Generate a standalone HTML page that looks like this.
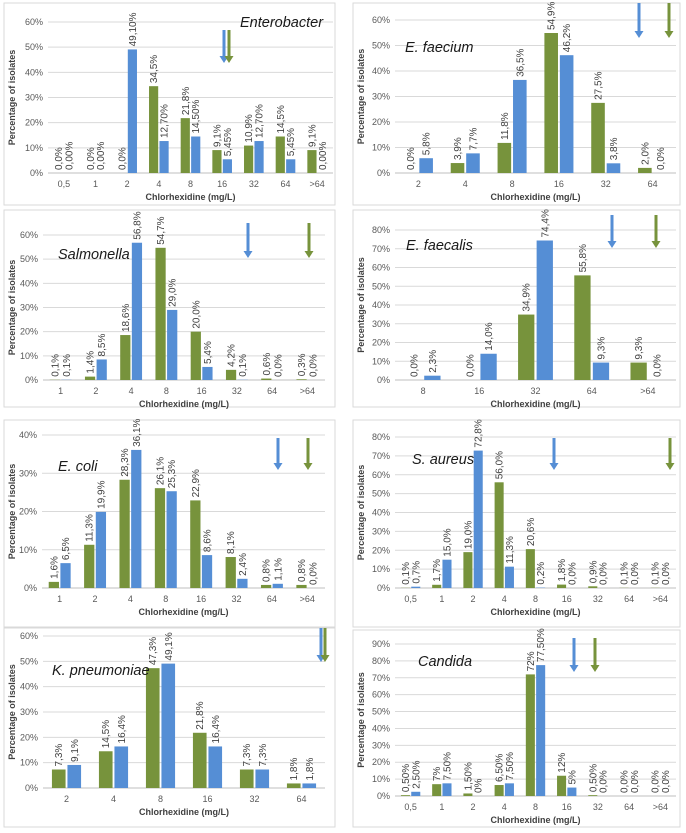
<!DOCTYPE html>
<html><head><meta charset="utf-8"><style>
html,body{margin:0;padding:0;background:#fff;}
svg{display:block;font-family:"Liberation Sans",sans-serif;}
</style></head><body>
<svg id="fig" width="686" height="833" viewBox="0 0 686 833" xmlns="http://www.w3.org/2000/svg"></svg>
<script>
// ---- data ----
const entCats = ["0,5","1","2","4","8","16","32","64",">64"];
const entGreen = [0,0,0,34.5,21.8,9.1,10.9,14.5,9.1];
const entBlue = [0,0,49.1,12.7,14.5,5.45,12.7,5.45,0];
const fmCats = ["2","4","8","16","32","64"];
const fmGreen = [0,3.9,11.8,54.9,27.5,2.0];
const fmBlue = [5.8,7.7,36.5,46.2,3.8,0];
const salCats = ["1","2","4","8","16","32","64",">64"];
const salGreen = [0.1,1.4,18.6,54.7,20.0,4.2,0.6,0.3];
const salBlue = [0.1,8.5,56.8,29.0,5.4,0.1,0,0];
const fsCats = ["8","16","32","64",">64"];
const fsGreen = [0,0,34.9,55.8,9.3];
const fsBlue = [2.3,14.0,74.4,9.3,0];
const ecCats = ["1","2","4","8","16","32","64",">64"];
const ecGreen = [1.6,11.3,28.3,26.1,22.9,8.1,0.8,0.8];
const ecBlue = [6.5,19.9,36.1,25.3,8.6,2.4,1.1,0];
const saCats = ["0,5","1","2","4","8","16","32","64",">64"];
const saGreen = [0.1,1.7,19.0,56.0,20.6,1.8,0.9,0.1,0.1];
const saBlue = [0.7,15.0,72.8,11.3,0.2,0,0,0,0];
const kpCats = ["2","4","8","16","32","64"];
const kpGreen = [7.3,14.5,47.3,21.8,7.3,1.8];
const kpBlue = [9.1,16.4,49.1,16.4,7.3,1.8];
const caCats = ["0,5","1","2","4","8","16","32","64",">64"];
const caGreen = [0.5,7,1.5,6.5,72,12,0.5,0,0];
const caBlue = [2.5,7.5,0,7.5,77.5,5,0,0,0];
const caGreenLabels = ["0,50%","7%","1,50%","6,50%","72%","12%","0,50%","0,0%","0,0%"];
const caBlueLabels = ["2,50%","7,50%","0%","7,50%","77,50%","5%","0,0%","0,0%","0,0%"];

const NS="http://www.w3.org/2000/svg";
const svg=document.getElementById('fig');
const GREEN="#77933C", BLUE="#558ED5";
function mk(tag,attrs,parent){const e=document.createElementNS(NS,tag);for(const k in attrs)e.setAttribute(k,attrs[k]);(parent||svg).appendChild(e);return e;}
function fmt(v,d){return v.toFixed(d).replace('.',',')+'%';}

function panel(p){
  const g=mk('g',{});
  
  
  const box=mk('rect',{x:p.bx,y:p.by,width:p.bw,height:p.bh,fill:'#fff',stroke:'#d9d9d9','stroke-width':1},g);
  
  
  const yv=v=>p.y0-(v/p.ymax)*(p.y0-p.yt);
  const n=p.cats.length, band=(p.x1-p.x0)/n;
  const cx=i=>p.x0+band*(i+0.5);
  for(let t=0;t<=p.ymax;t+=p.step){
    const y=yv(t);
    if(t>0){const gl=mk('line',{x1:p.x0,x2:p.x1,y1:y,y2:y,stroke:'#d9d9d9','stroke-width':1},g);
      
      }
    const tl=mk('text',{x:p.x0-5,y:y+3,'text-anchor':'end','font-size':9,fill:'#595959'},g);
    tl.textContent=t+'%';
    
    
  }
  const ax=mk('line',{x1:p.x0,x2:p.x1,y1:p.y0,y2:p.y0,stroke:'#bfbfbf','stroke-width':1},g);
  
  
  const bw=band*0.29, gap=band*0.04;
  for(let i=0;i<n;i++){
    const c=cx(i);
    [[p.green,GREEN,c-gap/2-bw,p.gl,'green'],[p.blue,BLUE,c+gap/2,p.bl,'blue']].forEach(([arr,col,x,labs,nm])=>{
      const v=arr[i], top=yv(v);
      const r=mk('rect',{x:x,y:top,width:bw,height:p.y0-top,fill:col},g);
      
      
      const lx=x+bw/2+3.5, ly=top-3;
      const t=mk('text',{transform:`translate(${lx},${ly}) rotate(-90)`,'font-size':10,fill:'#404040'},g);
      t.textContent=labs?labs[i]:fmt(v,nm==='green'?p.dg:p.db);
      
      
    });
    const xl=mk('text',{x:c,y:p.y0+14,'text-anchor':'middle','font-size':9,fill:'#595959'},g);
    xl.textContent=p.cats[i];
    
    
  }
  const xt=mk('text',{x:(p.x0+p.x1)/2,y:p.y0+27,'text-anchor':'middle','font-size':9,'font-weight':'bold',fill:'#404040'},g);
  xt.textContent='Chlorhexidine (mg/L)';
  
  
  const yt=mk('text',{transform:`translate(${p.bx+11},${(p.y0+p.yt)/2}) rotate(-90)`,'text-anchor':'middle','font-size':9,'font-weight':'bold',fill:'#404040'},g);
  yt.textContent='Percentage of isolates';
  
  
  const ti=mk('text',{x:p.tx,y:p.ty,'font-size':14.5,'font-style':'italic',fill:'#1a1a1a'},g);
  ti.textContent=p.title;
  
  
  [[p.ab,BLUE,'blue'],[p.ag,GREEN,'green']].forEach(([x,col,nm])=>{
    const a=mk('g',{},g);
    
    
    mk('line',{x1:x,x2:x,y1:p.a0,y2:p.a1-6,stroke:col,'stroke-width':3},a);
    mk('polygon',{points:`${x-4.5},${p.a1-7} ${x+4.5},${p.a1-7} ${x},${p.a1}`,fill:col},a);
  });
}

panel({id:'enterobacter',title:'Enterobacter',cats:entCats,green:entGreen,blue:entBlue,dg:1,db:2,
  bx:4,by:3,bw:331,bh:202,x0:48,x1:333,y0:173,yt:22,ymax:60,step:10,tx:240,ty:27,ab:224,ag:229,a0:30,a1:63});
panel({id:'e-faecium',title:'E. faecium',cats:fmCats,green:fmGreen,blue:fmBlue,dg:1,db:1,
  bx:353,by:3,bw:327,bh:202,x0:395,x1:676,y0:173,yt:20,ymax:60,step:10,tx:405,ty:52,ab:639,ag:669,a0:3,a1:38});
panel({id:'salmonella',title:'Salmonella',cats:salCats,green:salGreen,blue:salBlue,dg:1,db:1,
  bx:4,by:210,bw:331,bh:197,x0:43,x1:325,y0:380,yt:235,ymax:60,step:10,tx:58,ty:259,ab:248,ag:309,a0:223,a1:258});
panel({id:'e-faecalis',title:'E. faecalis',cats:fsCats,green:fsGreen,blue:fsBlue,dg:1,db:1,
  bx:353,by:210,bw:327,bh:197,x0:395,x1:676,y0:380,yt:230,ymax:80,step:10,tx:406,ty:250,ab:612,ag:656,a0:215,a1:248});
panel({id:'e-coli',title:'E. coli',cats:ecCats,green:ecGreen,blue:ecBlue,dg:1,db:1,
  bx:4,by:420,bw:331,bh:207,x0:42,x1:325,y0:588,yt:435,ymax:40,step:10,tx:58,ty:471,ab:278,ag:308,a0:438,a1:470});
panel({id:'s-aureus',title:'S. aureus',cats:saCats,green:saGreen,blue:saBlue,dg:1,db:1,
  bx:353,by:420,bw:327,bh:207,x0:395,x1:676,y0:588,yt:437,ymax:80,step:10,tx:412,ty:464,ab:554,ag:670,a0:438,a1:470});
panel({id:'k-pneumoniae',title:'K. pneumoniae',cats:kpCats,green:kpGreen,blue:kpBlue,dg:1,db:1,
  bx:4,by:628,bw:331,bh:199,x0:43,x1:325,y0:788,yt:636,ymax:60,step:10,tx:52,ty:675,ab:321,ag:325,a0:628,a1:662});
panel({id:'candida',title:'Candida',cats:caCats,green:caGreen,blue:caBlue,gl:caGreenLabels,bl:caBlueLabels,
  bx:353,by:630,bw:327,bh:197,x0:395,x1:676,y0:796,yt:644,ymax:90,step:10,tx:418,ty:666,ab:574,ag:595,a0:638,a1:672});
</script>
</body></html>
